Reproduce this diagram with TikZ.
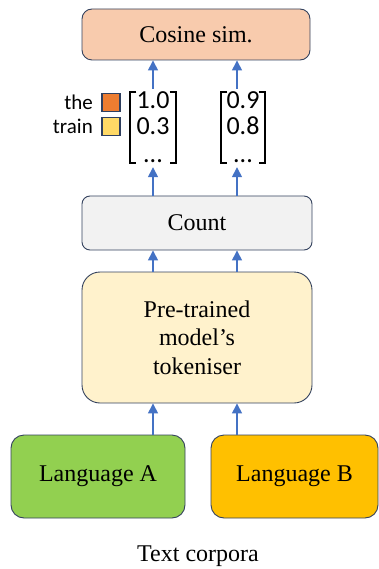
\documentclass[tikz,border=0pt]{standalone}
\usepackage{fontspec}
\setmainfont{Liberation Serif}
\newfontfamily\calib{Carlito}
\usetikzlibrary{arrows.meta}
\definecolor{edge}{HTML}{34425E}
\definecolor{arrblue}{HTML}{4472C4}
\definecolor{peach}{HTML}{F8CBAD}
\definecolor{lgray}{HTML}{F2F2F2}
\definecolor{cream}{HTML}{FFF2CC}
\definecolor{lgreen}{HTML}{92D050}
\definecolor{gold}{HTML}{FFC000}
\definecolor{sqorange}{HTML}{ED7D31}
\definecolor{sqyellow}{HTML}{FFD966}
\definecolor{sqedge}{HTML}{2F3F5F}
\tikzset{
  box/.style={draw=edge, line width=0.9pt, rounded corners=10pt, inner sep=0pt, font=\fontsize{24}{28.5}\selectfont, align=center},
  arr/.style={arrblue, line width=1.4pt, -{Triangle[width=10pt,length=10pt]}},
  num/.style={font=\calib\fontsize{26}{30}\selectfont, inner sep=0pt},
  lab/.style={font=\calib\fontsize{21}{24}\selectfont, inner sep=0pt, anchor=east},
  sq/.style={draw=sqedge, line width=1.3pt, minimum width=18pt, minimum height=18pt, inner sep=0pt},
  brk/.style={black, line width=1.8pt},
}
\begin{document}
\begin{tikzpicture}[x=1pt,y=-1pt]
\useasboundingbox (0,0) rectangle (379,569);
\node[box, fill=peach, minimum width=228pt, minimum height=51pt] (cos) at (196,34.5) {Cosine sim.};
\node[box, fill=lgray, minimum width=230pt, minimum height=54pt, rounded corners=8pt] (cnt) at (197,223) {Count};
\node[box, fill=cream, minimum width=230pt, minimum height=131pt, rounded corners=18pt] (tok) at (197,337.5) {Pre-trained\\model's\\tokeniser};
\node[box, fill=lgreen, minimum width=174pt, minimum height=83pt, rounded corners=13pt] (la) at (98,476.5) {Language A};
\node[box, fill=gold, minimum width=167pt, minimum height=83pt, rounded corners=13pt] (lb) at (294.5,476.5) {Language B};
\node[font=\fontsize{24}{28}\selectfont, inner sep=0pt] (tc) at (198,556) {Text corpora};
% matrices
\node[minimum width=45pt, minimum height=71pt, inner sep=0pt] (m1) at (153,127.5) {};
\node[minimum width=43pt, minimum height=71pt, inner sep=0pt] (m2) at (243,127.5) {};
\foreach \m in {m1,m2}{
  \draw[brk] ([xshift=6pt]\m.north west) -| (\m.south west) -- ++(6,0);
  \draw[brk] ([xshift=-6pt]\m.north east) -| (\m.south east) -- ++(-6,0);
}
\node[num] (a1) at (153,100) {1.0};
\node[num] (a2) at (153,126) {0.3};
\node[num, anchor=base] (a3) at (153,163) {...};
\node[num] (b1) at (243,100) {0.9};
\node[num] (b2) at (243,126) {0.8};
\node[num, anchor=base] (b3) at (243,163) {...};
% legend
\node[sq, fill=sqorange] (s1) at (111,102.5) {};
\node[sq, fill=sqyellow] (s2) at (111,126.5) {};
\node[lab] (t1) at (93,102) {the};
\node[lab] (t2) at (93,126) {train};
% arrows
\coordinate (c1) at (153,0);
\coordinate (c2) at (237,0);
\draw[arr] (m1.north) ++(0,-3) -- (c1 |- cos.south);
\draw[arr] (c2 |- m1.north) ++(0,-3) -- (c2 |- cos.south);
\draw[arr] (c1 |- cnt.north) -- ([yshift=-4pt]c1 |- m1.south);
\draw[arr] (c2 |- cnt.north) -- ([yshift=-4pt]c2 |- m1.south);
\draw[arr] (c1 |- tok.north) -- (c1 |- cnt.south);
\draw[arr] (c2 |- tok.north) -- (c2 |- cnt.south);
\draw[arr] (c1 |- la.north) -- (c1 |- tok.south);
\draw[arr] (c2 |- lb.north) -- (c2 |- tok.south);
\end{tikzpicture}
\end{document}
